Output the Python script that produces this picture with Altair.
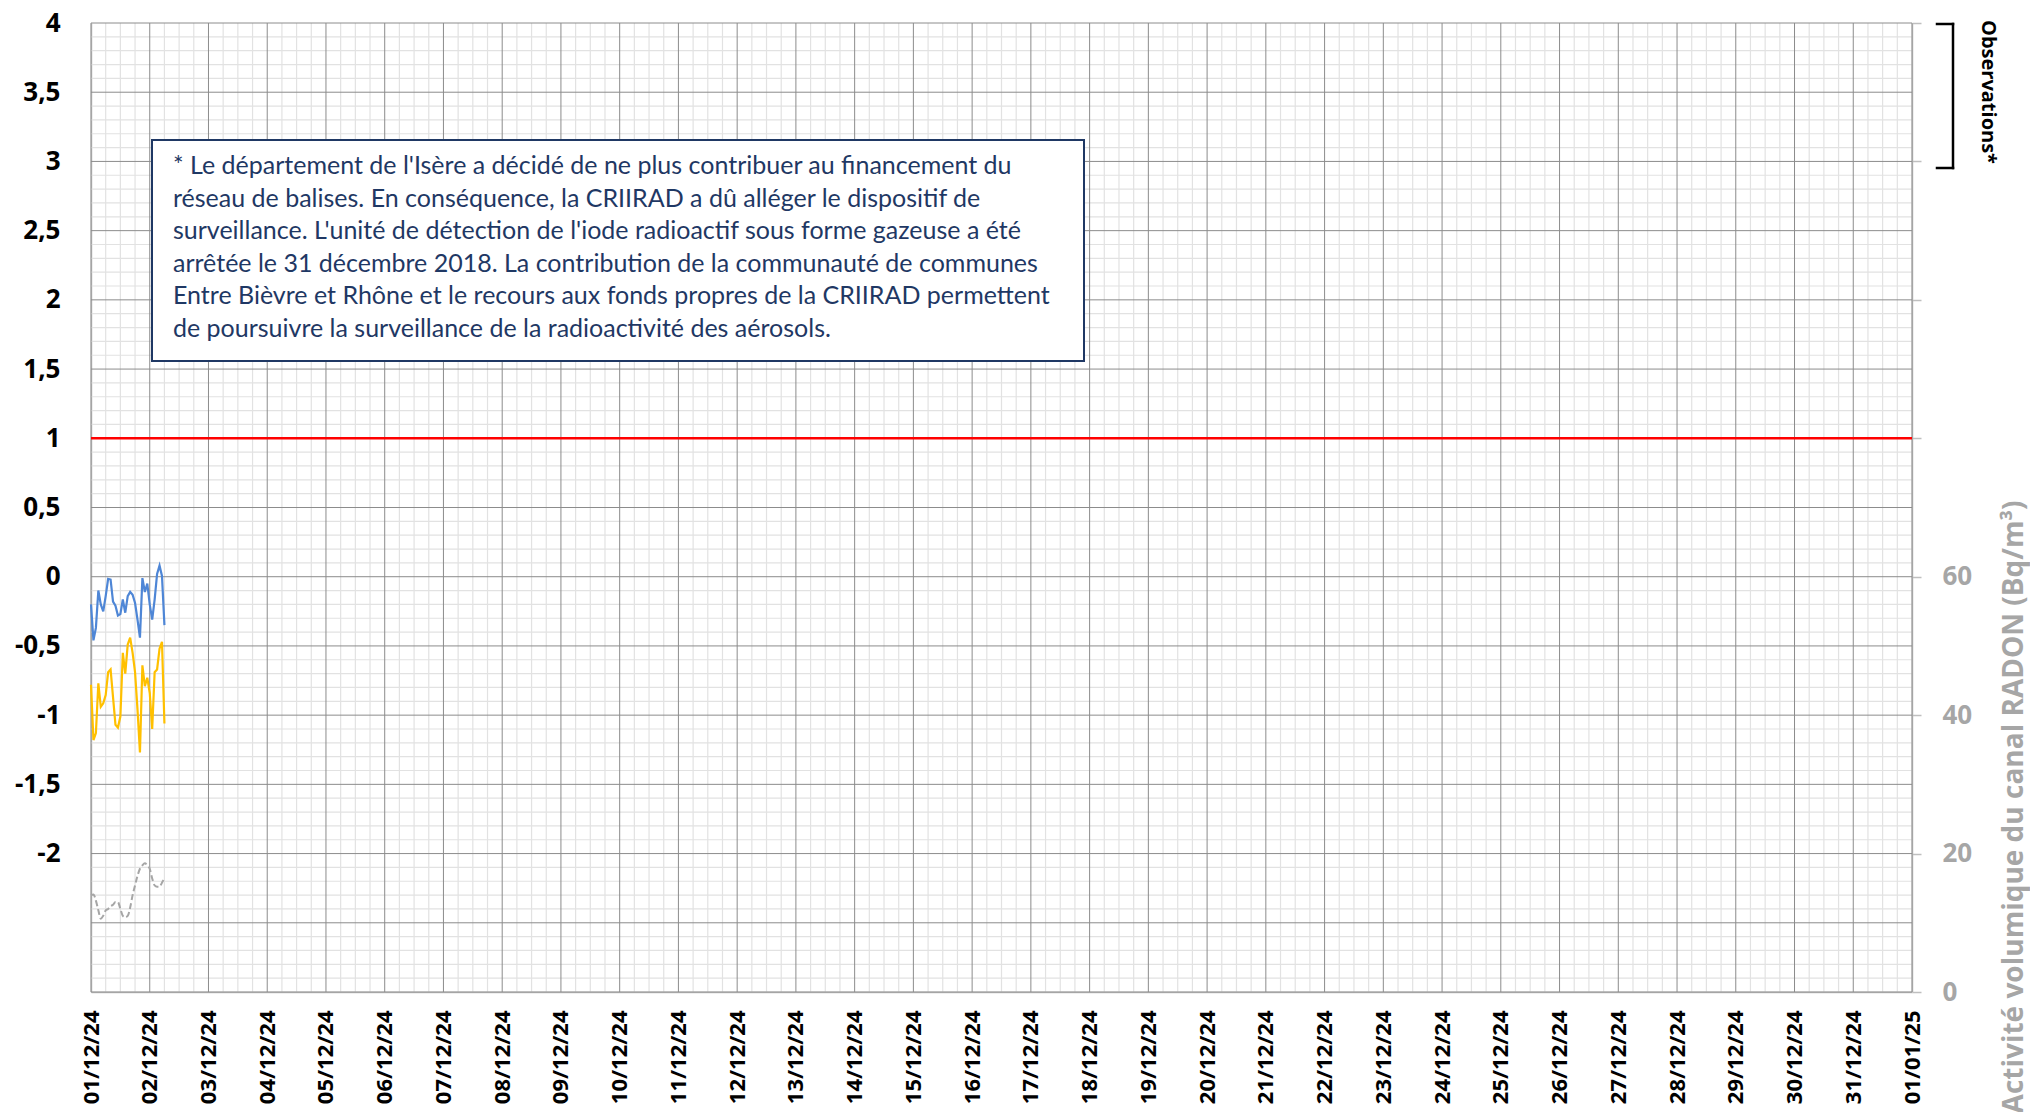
import altair as alt
import pandas as pd

# ---- data (hourly values, 01/12/24 00h -> 02/12/24 06h)
heures = list(range(31))
bleu = [-0.20, -0.46, -0.37, -0.10, -0.20, -0.25, -0.14, -0.015, -0.02, -0.18,
        -0.21, -0.28, -0.27, -0.165, -0.26, -0.14, -0.11, -0.13, -0.19, -0.31,
        -0.44, -0.01, -0.11, -0.05, -0.20, -0.31, -0.165, 0.02, 0.08, 0.005, -0.35]
jaune = [-0.78, -1.18, -1.13, -0.77, -0.94, -0.915, -0.855, -0.69, -0.67, -0.87,
         -1.07, -1.09, -1.01, -0.55, -0.70, -0.49, -0.44, -0.55, -0.69, -0.96,
         -1.27, -0.64, -0.79, -0.73, -0.84, -1.10, -0.69, -0.67, -0.52, -0.47, -1.06]
radon = [14.0, 14.1, 13.2, 11.8, 10.6, 11.0, 11.8, 12.0, 12.4, 12.6,
         13.0, 13.0, 12.0, 11.0, 10.8, 11.0, 12.2, 14.0, 15.4, 16.8,
         17.8, 18.3, 18.6, 18.3, 17.8, 16.4, 15.4, 15.2, 15.2, 15.8, 16.4]
seuil = [1.0]

y_major_values = [-3.0, -2.5, -2.0, -1.5, -1.0, -0.5, 0.0, 0.5, 1.0, 1.5, 2.0, 2.5, 3.0, 3.5, 4.0]
y_minor_values = [round(k / 10, 1) for k in range(-30, 41) if k % 5 != 0]
radon_values = [0, 20, 40, 60, 80, 100, 120, 140]

note_lines = [
    "* Le département de l'Isère a décidé de ne plus contribuer au financement du",
    "réseau de balises. En conséquence, la CRIIRAD a dû alléger le dispositif de",
    "surveillance. L'unité de détection de l'iode radioactif sous forme gazeuse a été",
    "arrêtée le 31 décembre 2018. La contribution de la communauté de communes",
    "Entre Bièvre et Rhône et le recours aux fonds propres de la CRIIRAD permettent",
    "de poursuivre la surveillance de la radioactivité des aérosols.",
]

FMT = "%Y-%m-%dT%H:%M:%S"
t0 = pd.Timestamp("2024-12-01 00:00")
times = [(t0 + pd.Timedelta(hours=h)).strftime(FMT) for h in heures]
df = pd.DataFrame({"t": times, "bleu": bleu, "jaune": jaune, "radon": radon})

grid_6h = pd.date_range("2024-12-01", "2025-01-01", freq="6h")
x_minor_df = pd.DataFrame({"t": [d.strftime(FMT) for d in grid_6h if d.hour != 0]})
x_major_df = pd.DataFrame({"t": [d.strftime(FMT) for d in grid_6h if d.hour == 0]})
y_minor_df = pd.DataFrame({"v": y_minor_values})
y_major_df = pd.DataFrame({"v": y_major_values})

# ---- scales
x_scale = alt.Scale(domain=[alt.DateTime(year=2024, month=12, date=1),
                            alt.DateTime(year=2025, month=1, date=1)], nice=False)
left_scale = alt.Scale(domain=[-3, 4], nice=False, zero=False)
right_scale = alt.Scale(domain=[0, 140], nice=False, zero=False)

MAJOR = "#8C8C8C"
MINOR = "#E2E2E2"
EDGE = "#BFBFBF"

x_axis = alt.Axis(orient="bottom", format="%d/%m/%y", formatType="time",
                  values=[alt.DateTime(year=2024, month=12, date=d) for d in range(1, 32)]
                  + [alt.DateTime(year=2025, month=1, date=1)],
                  grid=False, labelAngle=270, labelFont="Open Sans", labelFontWeight="bold",
                  labelFontSize=22, labelColor="black", labelPadding=18, ticks=False,
                  domainColor=EDGE, domainWidth=1.5,
                  labelOverlap=False, labelFlush=False, labelBound=False, title=None)
y_axis = alt.Axis(orient="left", values=y_major_values,
                  labelExpr="datum.value < -2.1 ? '' : replace(replace(datum.label, '.', ','), '\u2212', '-')",
                  format=".1~f", grid=False, ticks=False, domainColor=EDGE, domainWidth=1.5,
                  labelFont="Open Sans", labelFontWeight="bold", labelFontSize=26, labelColor="black",
                  labelPadding=31, labelOverlap=False, labelFlush=False, title=None)
y_right = alt.Axis(orient="right", values=radon_values,
                   labelExpr="datum.value <= 60 ? datum.label : ''",
                   grid=False, ticks=True, tickSize=9, tickColor=EDGE, tickWidth=1.5,
                   domainColor=EDGE, domainWidth=1.5, labelColor="#A6A6A6", labelFont="Open Sans",
                   labelFontWeight="bold", labelFontSize=26, labelPadding=21, labelOverlap=False,
                   labelFlush=False, title="Activité volumique du canal RADON (Bq/m³)",
                   titleColor="#A6A6A6", titleFont="Open Sans", titleFontSize=28, titleFontWeight="bold",
                   titleAngle=270, titleX=110, titleY=477, titleAlign="right", titleBaseline="alphabetic")

X = alt.X("t:T", scale=x_scale, axis=x_axis)

# ---- grid
gx_minor = alt.Chart(x_minor_df).mark_rule(color=MINOR, strokeWidth=1.2).encode(x=X)
gy_minor = alt.Chart(y_minor_df).mark_rule(color=MINOR, strokeWidth=1.2).encode(
    y=alt.Y("v:Q", scale=left_scale, axis=None))
gx_major = alt.Chart(x_major_df).mark_rule(color=MAJOR, strokeWidth=1).encode(x=X)
gy_major = alt.Chart(y_major_df).mark_rule(color=MAJOR, strokeWidth=1).encode(
    y=alt.Y("v:Q", scale=left_scale, axis=y_axis))

base = alt.Chart(df)
yellow = base.mark_line(color="#FFC000", strokeWidth=2.2).encode(
    x=X, y=alt.Y("jaune:Q", scale=left_scale, axis=None))
blue = base.mark_line(color="#4E86D6", strokeWidth=2.2).encode(
    x=X, y=alt.Y("bleu:Q", scale=left_scale, axis=None))
red = alt.Chart(pd.DataFrame({"seuil": seuil})).mark_rule(color="#FF0000", strokeWidth=2.5).encode(
    y=alt.Y("seuil:Q", scale=left_scale, axis=None))
gray = base.mark_line(color="#A6A6A6", strokeWidth=2, strokeDash=[6, 3], interpolate="monotone").encode(
    x=X, y=alt.Y("radon:Q", scale=right_scale, axis=y_right))

one = pd.DataFrame({"a": [0]})
box = alt.Chart(one).mark_rect(fill="white", stroke="#1F3864", strokeWidth=2).encode(
    x=alt.value(61), x2=alt.value(993), y=alt.value(117), y2=alt.value(338))
note = alt.Chart(one).mark_text(text=note_lines, align="left", baseline="alphabetic", font="Lato",
                                fontSize=25, color="#1F3864", lineHeight=32.5).encode(
    x=alt.value(82), y=alt.value(151))
br_top = alt.Chart(one).mark_rule(color="black", strokeWidth=2.5, strokeCap="square").encode(
    x=alt.value(1846), x2=alt.value(1862), y=alt.value(1))
br_bot = alt.Chart(one).mark_rule(color="black", strokeWidth=2.5, strokeCap="square").encode(
    x=alt.value(1846), x2=alt.value(1862), y=alt.value(145))
br_v = alt.Chart(one).mark_rule(color="black", strokeWidth=2.5, strokeCap="square").encode(
    x=alt.value(1862), y=alt.value(1), y2=alt.value(145))
obs = alt.Chart(one).mark_text(text="Observations*", angle=90, font="Open Sans", fontWeight="bold",
                               fontSize=20, align="center", baseline="middle", color="black").encode(
    x=alt.value(1897), y=alt.value(69))

chart = alt.layer(gx_minor, gy_minor, gx_major, gy_major, yellow, blue, red, gray,
                  box, note, br_top, br_bot, br_v, obs).resolve_scale(
    y="independent"
).properties(
    width=1821, height=969,
    padding={"left": 83, "top": 15, "right": 118, "bottom": 120},
    autosize=alt.AutoSizeParams(type="none"),
    background="white",
).configure_view(stroke=None)

chart.save("out.html", embed_options={"renderer": "svg", "actions": False})
